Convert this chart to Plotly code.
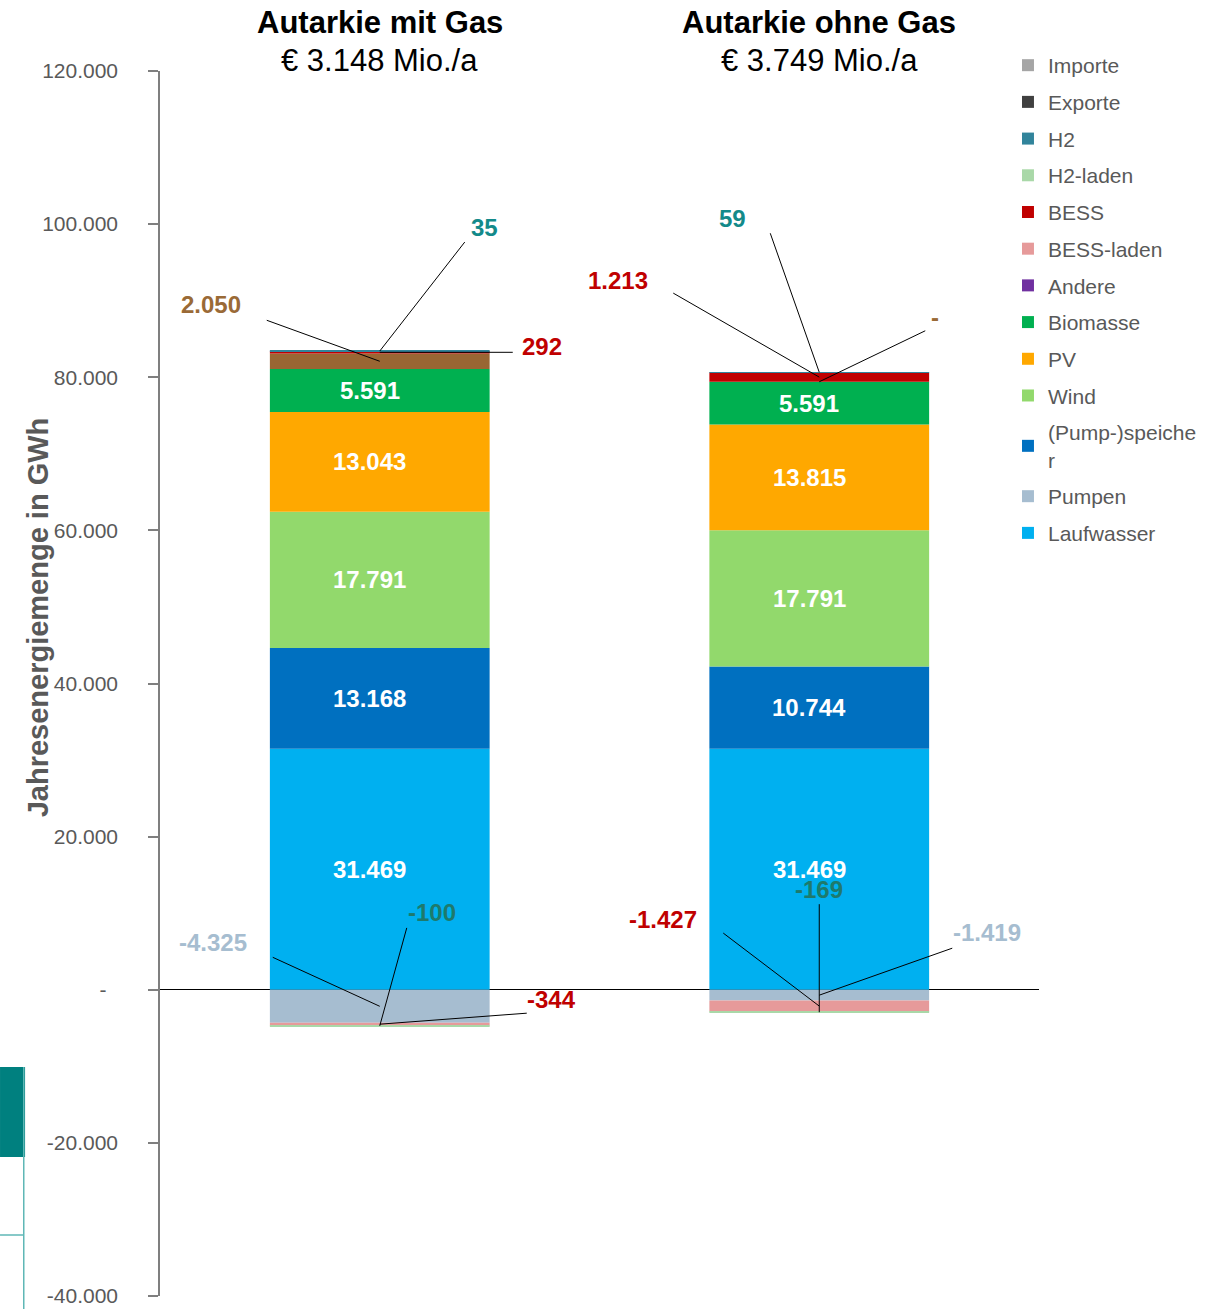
import plotly.graph_objects as go

# Scenarios (x positions 0 and 1)
scenarios = ["Autarkie mit Gas", "Autarkie ohne Gas"]
costs = ["€ 3.148 Mio./a", "€ 3.749 Mio./a"]

# Annual energy per technology in GWh, one value per scenario
laufwasser = [31469, 31469]
pumpen = [-4325, -1419]
pumpspeicher = [13168, 10744]
wind = [17791, 17791]
pv = [13043, 13815]
biomasse = [5591, 5591]
gas = [2050, 0]
andere = [0, 0]
bess_laden = [-344, -1427]
bess = [292, 1213]
h2_laden = [-100, -169]
h2 = [35, 59]
exporte = [0, 0]
importe = [0, 0]

y_ticks = [-40000, -20000, 0, 20000, 40000, 60000, 80000, 100000, 120000]

FONT = "Liberation Sans, Arial, sans-serif"


def fmt(v):
    if v == 0:
        return "-"
    return f"{v:,}".replace(",", ".")


# name, values, colour, inside label?, show in legend
series = [
    ("Laufwasser", laufwasser, "#00B0F0", True, True),
    ("Pumpen", pumpen, "#A6BDD0", False, True),
    ("(Pump-)speicher", pumpspeicher, "#0070C0", True, True),
    ("Wind", wind, "#92D96C", True, True),
    ("PV", pv, "#FFA800", True, True),
    ("Biomasse", biomasse, "#00B050", True, True),
    ("Gas", gas, "#996633", False, False),
    ("Andere", andere, "#7030A0", False, True),
    ("BESS-laden", bess_laden, "#E69A9A", False, True),
    ("BESS", bess, "#C00000", False, True),
    ("H2-laden", h2_laden, "#A9D8A8", False, True),
    ("H2", h2, "#31849B", False, True),
    ("Exporte", exporte, "#404040", False, True),
    ("Importe", importe, "#A5A5A5", False, True),
]

fig = go.Figure()
for k, (name, vals, color, inside, show) in enumerate(series):
    legend_name = "(Pump-)speiche<br>r" if name == "(Pump-)speicher" else name
    fig.add_trace(go.Bar(
        x=[0, 1], y=vals, name=legend_name, marker=dict(color=color, line=dict(width=0)),
        width=0.5, legendgroup=name, showlegend=show, legendrank=1000 - k,
        textposition="none", hoverinfo="skip",
    ))

# Segment midpoints, following the relative stacking order
mids = {}
for i in range(2):
    pos_base, neg_base = 0, 0
    for name, vals, *_ in series:
        v = vals[i]
        if v >= 0:
            mids[(name, i)] = pos_base + v / 2
            pos_base += v
        else:
            mids[(name, i)] = neg_base + v / 2
            neg_base += v

values = {name: vals for name, vals, *_ in series}

shapes = []
annotations = []

# White value labels inside the large segments (set slightly left of centre)
for name, vals, color, inside, show in series:
    if not inside:
        continue
    for i in range(2):
        annotations.append(dict(
            x=i, y=mids[(name, i)], xref="x", yref="y", text=f"<b>{fmt(vals[i])}</b>",
            showarrow=False, xshift=-10, xanchor="center", yanchor="middle",
            font=dict(family=FONT, size=24, color="white"),
        ))

C_RED = "#C00000"
C_TEAL = "#138A8A"
C_H2L = "#1E7A6C"
C_BROWN = "#9A6A36"
C_PUMP = "#A6BDD0"

# Callouts: (series, scenario, line end offset px, label offset px, colour)
callouts = [
    ("Gas", 0, (-113, 41), (-169, 57), C_BROWN),
    ("H2", 0, (85, 109), (105, 124), C_TEAL),
    ("BESS", 0, (133, 0), (162, 6), C_RED),
    ("Pumpen", 0, (-107, 49), (-167, 64), C_PUMP),
    ("BESS-laden", 0, (147, 11), (172, 25), C_RED),
    ("H2-laden", 0, (27, 98), (52, 113), C_H2L),
    ("BESS", 1, (-146, 84), (-201, 97), C_RED),
    ("H2", 1, (-49, 139), (-87, 154), C_TEAL),
    ("Gas", 1, (106, 51), (116, 64), C_BROWN),
    ("Pumpen", 1, (133, 47), (168, 63), C_PUMP),
    ("BESS-laden", 1, (-96, 73), (-156, 87), C_RED),
    ("H2-laden", 1, (0, 108), (0, 123), C_H2L),
]

for name, i, (lx, ly), (tx, ty), col in callouts:
    yv = mids[(name, i)]
    shapes.append(dict(
        type="line", xref="x", yref="y", xsizemode="pixel", ysizemode="pixel",
        xanchor=i, yanchor=yv, x0=0, y0=0, x1=lx, y1=ly,
        line=dict(color="black", width=1),
    ))
    annotations.append(dict(
        x=i, y=yv, xref="x", yref="y", text=f"<b>{fmt(values[name][i])}</b>",
        showarrow=False, xshift=tx, yshift=ty, xanchor="center", yanchor="middle",
        font=dict(family=FONT, size=24, color=col),
    ))

# Scenario headings
for i in range(2):
    annotations.append(dict(
        x=i, y=1.0392, xref="x", yref="paper", text=f"<b>{scenarios[i]}</b>",
        showarrow=False, xanchor="center", yanchor="middle",
        font=dict(family=FONT, size=31, color="black"),
    ))
    annotations.append(dict(
        x=i, y=1.0082, xref="x", yref="paper", text=costs[i],
        showarrow=False, xanchor="center", yanchor="middle",
        font=dict(family=FONT, size=31, color="black"),
    ))

# Axis title
annotations.append(dict(
    x=-0.1388, y=0.554, xref="paper", yref="paper", text="<b>Jahresenergiemenge in GWh</b>",
    showarrow=False, textangle=-90, xanchor="center", yanchor="middle",
    font=dict(family=FONT, size=29, color="#595959"),
))

# Edge of the neighbouring element on the left
teal = "#00807F"
shapes += [
    dict(type="rect", xref="paper", yref="paper", x0=-0.182, x1=-0.1535,
         y0=(1296 - 1157) / 1225, y1=(1296 - 1067) / 1225,
         fillcolor=teal, line=dict(width=0), layer="above"),
    dict(type="line", xref="paper", yref="paper", x0=-0.155, x1=-0.155,
         y0=-0.02, y1=(1296 - 1067) / 1225, line=dict(color="#5FB7B6", width=1.5)),
    dict(type="line", xref="paper", yref="paper", x0=-0.182, x1=-0.155,
         y0=(1296 - 1235) / 1225, y1=(1296 - 1235) / 1225, line=dict(color="#5FB7B6", width=1.5)),
]

fig.update_layout(
    width=1220, height=1309,
    margin=dict(l=160, r=181, t=71, b=13),
    paper_bgcolor="white", plot_bgcolor="white",
    barmode="relative",
    font=dict(family=FONT, color="#595959"),
    xaxis=dict(range=[-0.5, 1.5], visible=False, automargin=False),
    yaxis=dict(
        range=[-40000, 120000], tickvals=y_ticks,
        ticktext=[fmt(v) if v != 0 else "-\u00a0\u00a0" for v in y_ticks],
        showgrid=False, zeroline=True, zerolinecolor="black", zerolinewidth=1,
        showline=True, linecolor="#7F7F7F", linewidth=1.5,
        ticks="outside", ticklen=10, tickcolor="#7F7F7F", tickwidth=1.5,
        tickfont=dict(family=FONT, size=21, color="#595959"),
        ticklabelstandoff=26, automargin=False,
    ),
    legend=dict(
        x=0.9647, y=1.0212, xanchor="left", yanchor="top",
        traceorder="grouped", tracegroupgap=6.4,
        font=dict(family=FONT, size=21, color="#595959"),
        bgcolor="rgba(0,0,0,0)",
    ),
    shapes=shapes,
    annotations=annotations,
    showlegend=True,
)

fig.write_html("out.html")
